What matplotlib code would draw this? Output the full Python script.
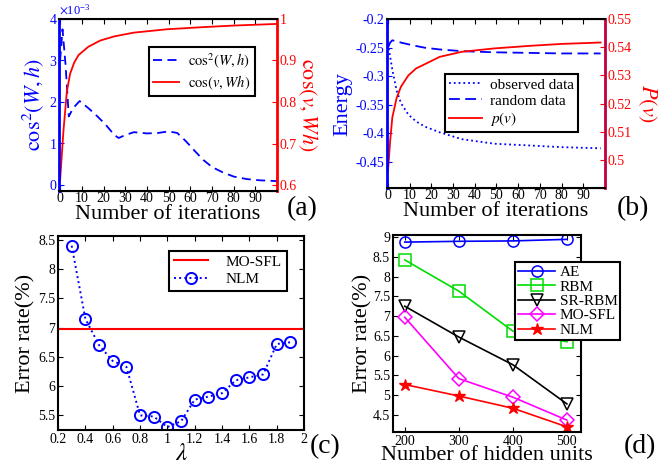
import numpy as np
import matplotlib
matplotlib.use('Agg')
from matplotlib import pyplot as plt
from matplotlib.ticker import FuncFormatter, ScalarFormatter

matplotlib.rcParams['font.family'] = 'Liberation Serif'
matplotlib.rcParams['mathtext.fontset'] = 'stix'
matplotlib.rcParams['axes.unicode_minus'] = False
matplotlib.rcParams['xtick.direction'] = 'in'
matplotlib.rcParams['ytick.direction'] = 'in'

# (a) cos^2(W,h) and cos(v,Wh) vs iterations
it_a_w = [0, 1.1, 2.5, 4, 6, 9, 13, 17, 21, 25, 27, 30, 34, 40, 45, 50, 54, 58, 62, 66, 70, 75, 80, 86, 92, 100]
cos2_wh = [3.0, 3.75, 2.9, 1.65, 1.85, 2.02, 1.85, 1.66, 1.45, 1.2, 1.13, 1.2, 1.27, 1.24, 1.25, 1.29, 1.25, 1.05, 0.82, 0.6, 0.43, 0.3, 0.2, 0.14, 0.11, 0.09]
it_a_v = [0, 1.5, 3.1, 4.6, 6.5, 8.5, 13, 18.5, 25, 34, 49, 65, 80, 100]
cos_vwh = [0.612, 0.728, 0.825, 0.868, 0.895, 0.913, 0.933, 0.948, 0.958, 0.967, 0.975, 0.98, 0.984, 0.988]

# (b) energy and p(v) vs iterations
it_b = [0, 1, 2, 4, 6, 9.4, 13, 17, 23.8, 34, 49, 65, 80, 98]
e_obs = [-0.243, -0.265, -0.288, -0.325, -0.347, -0.367, -0.379, -0.388, -0.398, -0.41, -0.418, -0.421, -0.424, -0.426]
e_rand = [-0.25, -0.241, -0.237, -0.239, -0.241, -0.244, -0.247, -0.25, -0.253, -0.256, -0.258, -0.259, -0.26, -0.26]
p_v = [0.4958, 0.5065, 0.515, 0.522, 0.526, 0.530, 0.5325, 0.534, 0.5366, 0.5384, 0.5396, 0.5405, 0.5412, 0.5417]

# (c) error rate vs lambda
lam = [0.3, 0.4, 0.5, 0.6, 0.7, 0.8, 0.9, 1.0, 1.1, 1.2, 1.3, 1.4, 1.5, 1.6, 1.7, 1.8, 1.9]
err_nlm_lam = [8.4, 7.15, 6.7, 6.43, 6.33, 5.5, 5.48, 5.3, 5.4, 5.77, 5.82, 5.88, 6.1, 6.15, 6.2, 6.72, 6.75]
err_mosfl_lam = 6.97

# (d) error rate vs hidden units
hidden = [200, 300, 400, 500]
err_ae = [8.87, 8.89, 8.9, 8.94]
err_rbm = [8.42, 7.63, 6.62, 6.35]
err_srrbm = [7.25, 6.47, 5.77, 4.78]
err_mosfl = [6.97, 5.42, 4.95, 4.37]
err_nlm = [5.27, 4.98, 4.67, 4.2]

fmt_g = FuncFormatter(lambda v, p: '%g' % round(v, 6))


def style_legend(leg):
    fr = leg.get_frame()
    fr.set_edgecolor('k')
    fr.set_linewidth(1.5)
    fr.set_boxstyle('square', pad=0)


fig = plt.figure(figsize=(6.67, 4.73), dpi=100)

# ---------- (a)
ax = fig.add_axes([0.0885, 0.596, 0.327, 0.364])
ax2 = ax.twinx()
l1, = ax.plot(np.array(it_a_w), np.array(cos2_wh) * 1e-3, color='b', lw=1.3, dashes=(5, 3))
l2, = ax2.plot(it_a_v, cos_vwh, color='r', lw=1.3)
ax.set_xlim(-0.5, 100)
ax.set_ylim(-0.15e-3, 4e-3)
ax2.set_ylim(0.5855, 1.0)
ax.set_xticks(np.arange(0, 100, 10))
ax.set_yticks(np.arange(0, 5) * 1e-3)
ax2.set_yticks([0.6, 0.7, 0.8, 0.9, 1.0])
ax2.yaxis.set_major_formatter(fmt_g)
sf = ScalarFormatter(useMathText=True)
sf.set_powerlimits((-2, 2))
ax.yaxis.set_major_formatter(sf)
ax.yaxis.get_offset_text().set_color('b')
ax.yaxis.get_offset_text().set_fontsize(9)
ax.tick_params(axis='y', colors='b', labelsize=10, pad=1)
ax.tick_params(axis='x', labelsize=10, pad=1, top=True)
ax2.tick_params(axis='y', colors='r', labelsize=10, pad=2)
ax2.spines['left'].set_color('b')
ax2.spines['left'].set_linewidth(2)
ax2.spines['right'].set_color('r')
ax2.spines['right'].set_linewidth(2)
ax2.spines['top'].set_linewidth(1.5)
ax2.spines['bottom'].set_linewidth(1.5)
ax.set_ylabel(r'$\mathrm{cos}^2(W,h)$', color='b', fontsize=16, labelpad=2)
ax2.set_ylabel(r'$\mathrm{cos}(v,Wh)$', color='r', fontsize=16, rotation=270, labelpad=16)
ax.set_xlabel('Number of iterations', fontsize=16, labelpad=0)
leg = ax2.legend([l1, l2], [r'$\mathrm{cos}^2(W,h)$', r'$\mathrm{cos}(v,Wh)$'],
                 loc='upper right', bbox_to_anchor=(0.93, 0.88), fontsize=10.5,
                 fancybox=False, framealpha=1, handlelength=1.8, borderpad=0.3,
                 labelspacing=0.2, handletextpad=0.6)
style_legend(leg)
fig.text(0.43, 0.558, '(a)', fontsize=20, ha='left', va='center')

# ---------- (b)
bx = fig.add_axes([0.580, 0.6025, 0.327, 0.357])
bx2 = bx.twinx()
m1, = bx.plot(it_b, e_obs, color='b', lw=1.3, ls=':')
m2, = bx.plot(it_b, e_rand, color='b', lw=1.3, dashes=(6, 3))
m3, = bx2.plot(it_b, p_v, color='r', lw=1.3)
bx.set_xlim(-0.5, 100)
bx.set_ylim(-0.4955, -0.2)
bx2.set_ylim(0.49, 0.55)
bx.set_xticks(np.arange(0, 100, 10))
bx.set_yticks([-0.45, -0.4, -0.35, -0.3, -0.25, -0.2])
bx2.set_yticks([0.5, 0.51, 0.52, 0.53, 0.54, 0.55])
bx.yaxis.set_major_formatter(fmt_g)
bx2.yaxis.set_major_formatter(fmt_g)
bx.tick_params(axis='y', colors='b', labelsize=10, pad=2)
bx.tick_params(axis='x', labelsize=10, pad=1, top=True)
bx2.tick_params(axis='y', colors='r', labelsize=10, pad=2)
bx2.spines['left'].set_color('b')
bx2.spines['left'].set_linewidth(2)
bx2.spines['right'].set_color('#c00040')
bx2.spines['right'].set_linewidth(2)
bx2.spines['top'].set_linewidth(1.5)
bx2.spines['bottom'].set_linewidth(1.5)
bx.set_ylabel('Energy', color='b', fontsize=16, labelpad=2)
bx2.set_ylabel(r'$P(v)$', color='r', fontsize=16, rotation=270, labelpad=19)
bx.set_xlabel('Number of iterations', fontsize=16, labelpad=0)
leg = bx2.legend([m1, m2, m3], ['observed data', 'random data', r'$p(v)$'],
                 loc='upper right', bbox_to_anchor=(0.91, 0.72), fontsize=11,
                 fancybox=False, framealpha=1, handlelength=2.2, borderpad=0.25,
                 labelspacing=0.15, handletextpad=0.5)
style_legend(leg)
fig.text(0.925, 0.558, '(b)', fontsize=20, ha='left', va='center')

# ---------- (c)
cx = fig.add_axes([0.087, 0.0909, 0.369, 0.410])
cx.axhline(err_mosfl_lam, color='r', lw=1.5, label='MO-SFL')
cx.plot(lam, err_nlm_lam, color='b', ls=':', lw=1.4, marker='o', ms=8,
        mfc='none', mec='b', mew=1.4, label='NLM')
cx.set_xlim(0.2, 2)
cx.set_ylim(5.25, 8.565)
cx.set_xticks(np.arange(0.2, 2.01, 0.2))
cx.set_yticks(np.arange(5.5, 8.51, 0.5))
cx.xaxis.set_major_formatter(fmt_g)
cx.yaxis.set_major_formatter(fmt_g)
cx.tick_params(labelsize=10, top=True, right=True, pad=2)
for s in cx.spines.values():
    s.set_linewidth(1.5)
cx.set_ylabel('Error rate(%)', fontsize=16, labelpad=2)
cx.set_xlabel(r'$\lambda$', fontsize=18, labelpad=-2)
leg = cx.legend(loc='upper right', bbox_to_anchor=(0.96, 0.965), fontsize=11,
                fancybox=False, framealpha=1, handlelength=2.2, borderpad=0.3,
                labelspacing=0.25, handletextpad=1.2)
style_legend(leg)
fig.text(0.465, 0.055, '(c)', fontsize=20, ha='left', va='center')

# ---------- (d)
dx = fig.add_axes([0.589, 0.0867, 0.282, 0.4165])
mk = dict(ms=8, mfc='none', mew=1.1, lw=1.2)
dx.plot(hidden, err_ae, color='b', marker='o', label='AE', **mk)
dx.plot(hidden, err_rbm, color='#00dd00', marker='s', label='RBM', **mk)
dx.plot(hidden, err_srrbm, color='k', marker='v', label='SR-RBM', **mk)
dx.plot(hidden, err_mosfl, color='#ff00ff', marker='D', label='MO-SFL', ms=7, mfc='none', mew=1.1, lw=1.2)
dx.plot(hidden, err_nlm, color='r', marker='*', label='NLM', ms=9, mew=1.0, lw=1.2)
dx.set_xlim(178, 526)
dx.set_ylim(4.07, 9.05)
dx.set_xticks(hidden)
dx.set_yticks(np.arange(4.5, 9.01, 0.5))
dx.yaxis.set_major_formatter(fmt_g)
dx.tick_params(labelsize=10, top=True, right=True, pad=2)
for s in dx.spines.values():
    s.set_linewidth(1.5)
dx.set_ylabel('Error rate(%)', fontsize=16, labelpad=0)
dx.set_xlabel('Number of hidden units', fontsize=16, labelpad=-1)
leg = dx.legend(loc='upper left', bbox_to_anchor=(0.61, 0.9), fontsize=11,
                fancybox=False, framealpha=1, handlelength=2.4, borderpad=0.2,
                labelspacing=0.05, handletextpad=0.3)
style_legend(leg)
fig.text(0.935, 0.055, '(d)', fontsize=20, ha='left', va='center')

fig.savefig('out.png', dpi=100)
